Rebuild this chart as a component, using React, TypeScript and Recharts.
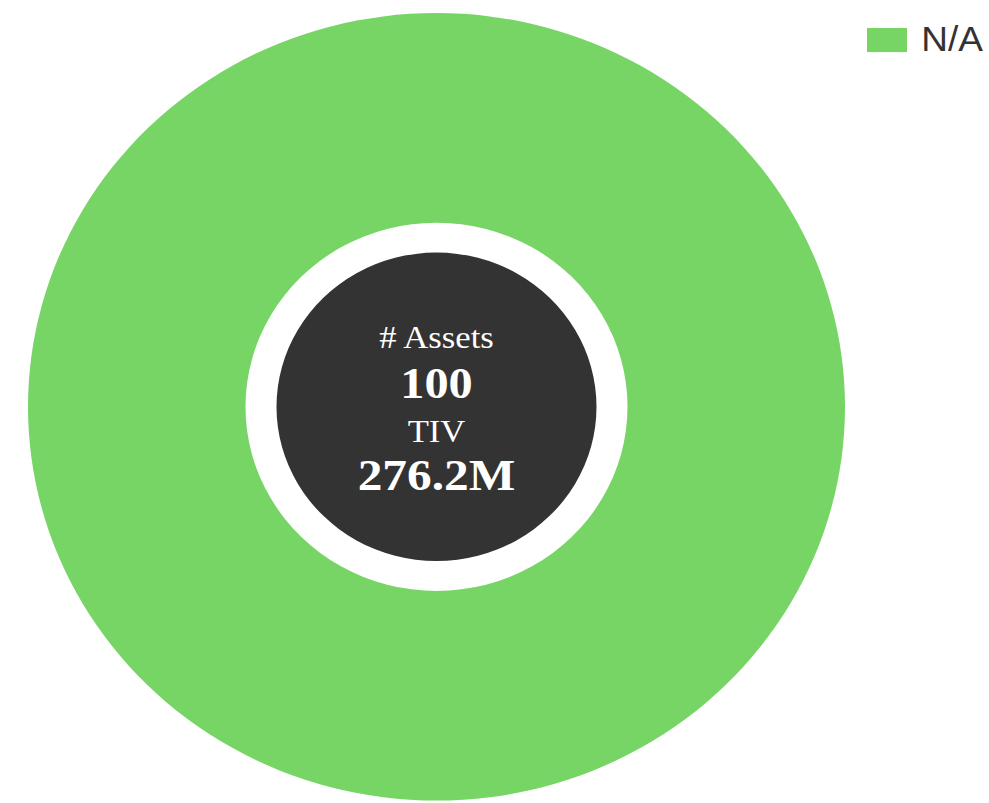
import React from "react";
import { PieChart, Pie, Cell, Legend, Label } from "recharts";

const categories = ["N/A"];
const values = [100];
const colors = ["#77D566"];
const centerLabels = ["# Assets", "100", "TIV", "276.2M"];

const data = categories.map((name, i) => ({ name, value: values[i] }));
const core = [{ name: "core", value: 1 }];

const LegendContent = (props: any) => {
  const { payload } = props;
  return (
    <div>
      {(payload || [])
        .filter((p: any) => categories.includes(p.value))
        .map((p: any) => (
          <div key={p.value} style={{ display: "flex", alignItems: "center" }}>
            <div style={{ width: 40, height: 25, background: p.color, marginRight: 14 }} />
            <span style={{ fontFamily: "'Liberation Sans', Arial, sans-serif", fontSize: 37, color: "#333" }}>
              {p.value}
            </span>
          </div>
        ))}
    </div>
  );
};

const CenterText = (props: any) => {
  const vb = props.viewBox || {};
  const cx = vb.cx ?? 436.5;
  const cy = vb.cy ?? 422;
  const font = "'Liberation Serif', 'Times New Roman', serif";
  return (
    <g transform={`translate(${cx},0) scale(1.05,1) translate(${-cx},0)`}>
      <text x={cx} y={cy - 61} textAnchor="middle" fill="#fff" fontFamily={font} fontSize={33}>{centerLabels[0]}</text>
      <text x={cx} y={cy - 9} textAnchor="middle" fill="#fff" fontFamily={font} fontSize={46} fontWeight="bold">{centerLabels[1]}</text>
      <text x={cx} y={cy + 37} textAnchor="middle" fill="#fff" fontFamily={font} fontSize={33}>{centerLabels[2]}</text>
      <text x={cx} y={cy + 86} textAnchor="middle" fill="#fff" fontFamily={font} fontSize={47} fontWeight="bold">{centerLabels[3]}</text>
    </g>
  );
};

export default function App() {
  return (
    <div style={{ position: "absolute", left: 0, top: 0, transform: "scaleY(0.964)", transformOrigin: "top left" }}>
      <PieChart width={989} height={833} margin={{ top: 0, right: 0, bottom: 0, left: 0 }}>
        <Pie
          data={data}
          dataKey="value"
          nameKey="name"
          cx={436.5}
          cy={422}
          innerRadius={191}
          outerRadius={408.5}
          startAngle={90}
          endAngle={-270}
          stroke="none"
          isAnimationActive={false}
        >
          {data.map((d, i) => (
            <Cell key={d.name} fill={colors[i]} />
          ))}
        </Pie>
        <Pie
          data={core}
          dataKey="value"
          cx={436.5}
          cy={422}
          innerRadius={0}
          outerRadius={160}
          fill="#333333"
          stroke="none"
          legendType="none"
          isAnimationActive={false}
        >
          <Label position="center" content={<CenterText />} />
        </Pie>
        <Legend
          layout="vertical"
          verticalAlign="top"
          align="right"
          content={<LegendContent />}
          wrapperStyle={{ position: "absolute", top: 20, right: 6, left: "auto", width: "auto" }}
        />
      </PieChart>
    </div>
  );
}
